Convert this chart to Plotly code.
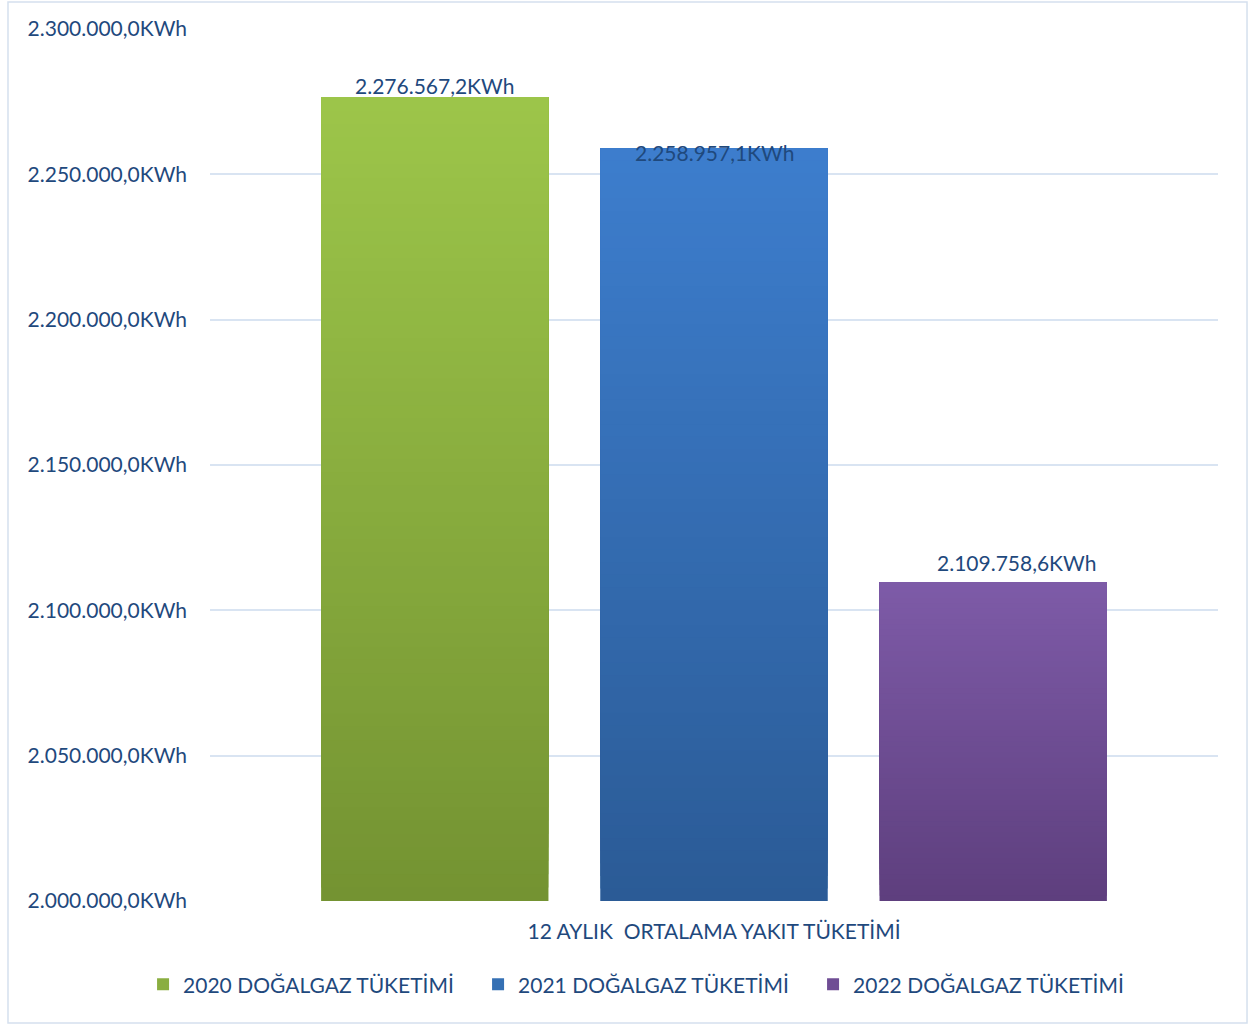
import plotly.graph_objects as go

# --- data ---------------------------------------------------------------
category_label = "12 AYLIK\u00a0\u00a0ORTALAMA YAKIT TÜKETİMİ"
series_names = [
    "2020 DOĞALGAZ TÜKETİMİ",
    "2021 DOĞALGAZ TÜKETİMİ",
    "2022 DOĞALGAZ TÜKETİMİ",
]
consumption_kwh = [2276567.2, 2258957.1, 2109758.6]
y_tick_values = [2000000, 2050000, 2100000, 2150000, 2200000, 2250000, 2300000]

# --- styling ------------------------------------------------------------
top_colors = ["#9DC64A", "#3D7ECE", "#7E5BA8"]
bottom_colors = ["#749332", "#2B5B96", "#5E3F7E"]
legend_colors = ["#8AAE40", "#3570B4", "#6F4D94"]
label_yshift = [12, -4, 19]
label_xshift = [0, 0, 23]
text_color = "#1F497D"
grid_color = "#D9E4F2"
font_family = "Lato, 'Noto Sans', sans-serif"
font_size = 21
axis_floor = 2000000
axis_ceiling = 2300000
bar_width = 0.813
gradient_steps = 60


def hex_to_rgb(h):
    h = h.lstrip("#")
    return tuple(int(h[i:i + 2], 16) for i in (0, 2, 4))


def blend(c_bottom, c_top, t):
    a, b = hex_to_rgb(c_bottom), hex_to_rgb(c_top)
    return "rgb({},{},{})".format(*[round(a[k] + (b[k] - a[k]) * t) for k in range(3)])


def tr_number(v):
    s = f"{v:,.1f}"
    return s.replace(",", "#").replace(".", ",").replace("#", ".") + "KWh"


fig = go.Figure()

for i, (name, value) in enumerate(zip(series_names, consumption_kwh)):
    # solid bar (carries the legend entry)
    fig.add_trace(go.Bar(
        x=[i], y=[value], name=name, width=bar_width,
        marker=dict(color=legend_colors[i], line=dict(width=0)),
        hoverinfo="skip",
    ))
    # vertical gradient drawn as overlapping bands from the axis floor up to the value
    bases, heights, colors = [], [], []
    for k in range(gradient_steps):
        t = k / gradient_steps
        b = axis_floor + (value - axis_floor) * t
        bases.append(b)
        heights.append(value - b)
        colors.append(blend(bottom_colors[i], top_colors[i], t))
    fig.add_trace(go.Bar(
        x=[i] * gradient_steps, y=heights, base=bases, width=bar_width,
        showlegend=False,
        marker=dict(color=colors, line=dict(width=0)),
        hovertemplate=f"{name}<br>{tr_number(value)}<extra></extra>",
    ))
    fig.add_annotation(
        x=i, y=value, text=tr_number(value), showarrow=False,
        yanchor="middle", yshift=label_yshift[i], xshift=label_xshift[i],
        font=dict(family=font_family, size=font_size, color=text_color),
    )

# light frame around the whole chart
fig.add_shape(
    type="rect", xref="paper", yref="paper",
    x0=-0.2004, x1=1.0288, y0=-0.1399, y1=1.031,
    line=dict(color="#D5E0EE", width=1.5), fillcolor="rgba(0,0,0,0)", layer="below",
)

fig.update_layout(
    width=1250, height=1025,
    margin=dict(l=210, r=32, t=29, b=124, autoexpand=False),
    paper_bgcolor="white", plot_bgcolor="white",
    barmode="overlay",
    font=dict(family=font_family, size=font_size, color=text_color),
    showlegend=True,
    legend=dict(
        orientation="h", x=-0.0664, xanchor="left", y=-0.096, yanchor="middle",
        font=dict(family=font_family, size=font_size, color=text_color),
        entrywidth=290, entrywidthmode="pixels",
        traceorder="normal", itemclick=False, itemdoubleclick=False,
    ),
    xaxis=dict(
        range=[-0.805, 2.805], tickvals=[1], ticktext=[category_label],
        showgrid=False, zeroline=False, showline=False, ticks="",
        ticklabelstandoff=16, fixedrange=True,
        tickfont=dict(family=font_family, size=font_size, color=text_color),
    ),
    yaxis=dict(
        range=[axis_floor, axis_ceiling], tickvals=y_tick_values,
        ticktext=[tr_number(v) for v in y_tick_values],
        showgrid=True, gridcolor=grid_color, gridwidth=1.5,
        zeroline=False, showline=False, ticks="", ticklabelstandoff=22,
        fixedrange=True,
        tickfont=dict(family=font_family, size=font_size, color=text_color),
    ),
)

fig.write_html("out.html")
